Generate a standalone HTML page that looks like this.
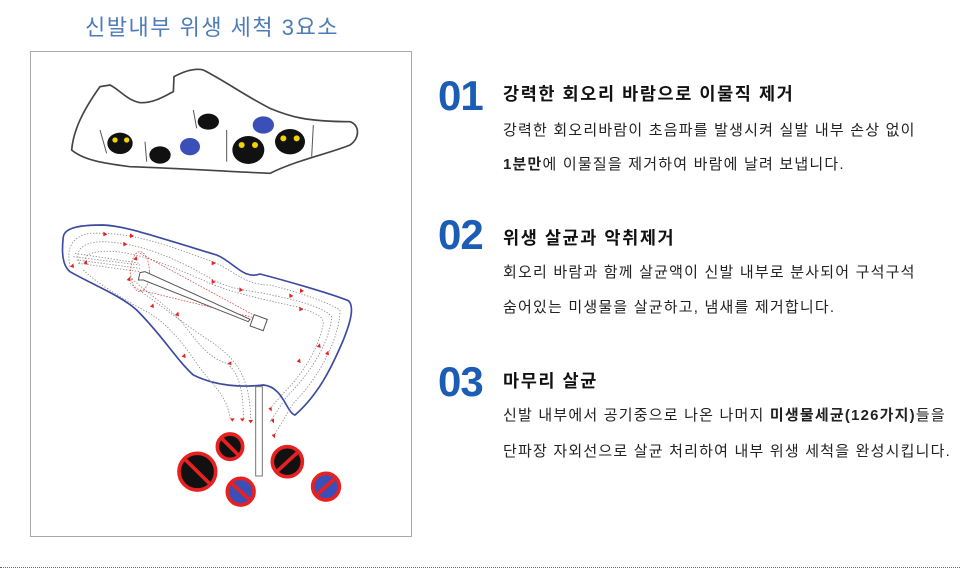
<!DOCTYPE html>
<html><head><meta charset="utf-8">
<style>
body{margin:0;width:960px;height:585px;background:#fff;position:relative;overflow:hidden;font-family:"Liberation Sans","Noto Sans CJK KR",sans-serif;}
.t{position:absolute;white-space:nowrap;}
.title{left:85px;top:10px;font-size:22px;color:#4d7cb8;letter-spacing:1.5px;}
.num{left:438px;font-size:42px;font-weight:bold;color:#1b5cb5;letter-spacing:-1px;}
.h{left:503px;font-size:17.5px;color:#111;letter-spacing:1.6px;font-weight:bold;}
.b{left:503px;font-size:15px;color:#222;letter-spacing:1.2px;}
.frame{position:absolute;left:30px;top:51px;width:380px;height:484px;border:1px solid #aaa;}
.dots{position:absolute;left:0;top:567px;width:960px;border-top:1px dotted #666;}
</style></head><body>
<div class="t title">신발내부 위생 세척 3요소</div>
<div class="frame"></div>
<svg style="position:absolute;left:30px;top:50px" width="380" height="490" viewBox="0 0 1140 1470">
<path d="M125,300 C130,240 160,180 210,110 L240,105 C270,120 290,150 330,158 C370,160 400,140 430,125 L432,80 C470,60 500,55 520,60 C580,90 650,140 720,175 C780,200 830,215 960,215 C990,225 990,265 960,285 C900,310 800,330 720,370 C600,365 450,355 300,350 C220,340 160,330 125,300Z" fill="#fff" stroke="#444" stroke-width="5"/>
<g fill="#111">
<ellipse cx="270" cy="280" rx="38" ry="32"/><ellipse cx="390" cy="315" rx="32" ry="26"/><ellipse cx="535" cy="215" rx="32" ry="24"/>
<ellipse cx="655" cy="300" rx="48" ry="42"/><ellipse cx="780" cy="275" rx="45" ry="38"/>
</g>
<g fill="#f2d200"><circle cx="255" cy="270" r="8"/><circle cx="290" cy="270" r="8"/><circle cx="635" cy="285" r="9"/><circle cx="675" cy="285" r="9"/><circle cx="760" cy="265" r="9"/><circle cx="800" cy="265" r="9"/></g>
<g fill="#3b4fb8"><ellipse cx="480" cy="290" rx="30" ry="26"/><ellipse cx="700" cy="225" rx="32" ry="26"/></g>
<g stroke="#555" stroke-width="3" fill="none"><path d="M210,240 L230,310 M345,275 L350,335 M490,180 L500,235 M590,240 L590,335 M850,225 L845,320"/></g>
<path d="M100,560 C105,530 160,525 220,525 C280,528 330,545 560,615 C610,635 640,690 690,672 C760,690 900,730 955,752 C975,770 960,820 940,870 C910,940 870,1030 795,1095 C770,1090 760,1010 700,1005 C640,1012 560,1010 490,975 C440,930 400,860 320,780 C270,735 180,700 120,665 C95,645 95,600 100,560Z" fill="none" stroke="#3c4aa0" stroke-width="5"/>
<g fill="none" stroke="#888" stroke-width="2.5" stroke-dasharray="4,5">
<path d="M120,650 C110,600 120,560 180,550 C300,545 400,580 560,640 C620,670 650,705 720,705 C820,730 900,760 930,780 C930,860 870,980 790,1060 L730,1160"/>
<path d="M150,640 C130,600 160,575 220,575 C330,580 430,620 550,690 C610,720 650,720 700,730 C800,750 880,770 905,800 C900,870 850,960 770,1040 L720,1115"/>
<path d="M165,635 C160,610 200,600 260,605 C350,615 450,660 540,700 C600,725 680,745 800,770 C860,790 880,800 880,820 C870,880 830,960 760,1030 L720,1075"/>
<path d="M160,660 C200,700 300,760 360,790 C420,830 460,880 500,940 C540,1000 590,1030 600,1105"/>
<path d="M300,680 C340,720 400,760 440,800 C480,840 520,920 590,940 C630,970 640,1030 640,1105"/>
<path d="M300,700 C370,750 460,820 550,880 C620,930 660,980 662,1110"/>
<path d="M130,620 L330,645 M135,610 L330,640 M140,630 L330,655 M145,640 L330,665"/>
</g>
<g fill="none" stroke="#e03030" stroke-width="2" stroke-dasharray="5,4"><ellipse cx="330" cy="665" rx="28" ry="60"/><path d="M330,610 L680,800 M330,720 L680,805"/></g>
<path d="M330,668 L345,665 L660,808 L655,815 L340,690 L325,690Z" fill="#fff" stroke="#555" stroke-width="3"/>
<rect x="665" y="800" width="42" height="36" fill="#fff" stroke="#555" stroke-width="3" transform="rotate(20 686 818)"/>
<rect x="677" y="1010" width="20" height="268" fill="#fff" stroke="#777" stroke-width="3"/>
<g fill="#e82020">
<path d="M220,545 l12,8 l-12,6z"/><path d="M300,550 l12,8 l-12,6z"/><path d="M280,575 l12,8 l-12,6z"/><path d="M545,632 l12,8 l-12,6z"/><path d="M545,688 l12,8 l-12,6z"/><path d="M628,712 l12,8 l-12,6z"/><path d="M810,715 l12,8 l-12,6z"/><path d="M778,730 l12,8 l-12,6z"/><path d="M808,770 l12,8 l-12,6z"/>
<path d="M120,650 l10,-10 l2,14z"/><path d="M160,640 l10,-10 l2,14z"/><path d="M310,628 l10,-10 l2,14z"/><path d="M290,690 l10,-10 l2,14z"/><path d="M360,770 l10,-10 l2,14z"/><path d="M435,795 l10,-10 l2,14z"/><path d="M455,920 l10,-10 l2,14z"/><path d="M592,940 l12,-6 l0,12z"/><path d="M800,935 l10,-10 l2,14z"/><path d="M860,890 l10,-10 l2,14z"/><path d="M885,912 l10,-10 l2,14z"/>
<path d="M600,1105 l14,0 l-7,10z"/><path d="M630,1105 l14,0 l-7,10z"/><path d="M655,1110 l14,0 l-7,10z"/><path d="M715,1075 l10,-4 l0,14z"/><path d="M722,1110 l10,-4 l0,14z"/><path d="M725,1155 l10,-4 l0,14z"/>
</g>
<g>
<circle cx="600" cy="1190" r="40" fill="#111"/><circle cx="502" cy="1265" r="52" fill="#111"/><circle cx="770" cy="1235" r="45" fill="#111"/><circle cx="632" cy="1325" r="40" fill="#3b4fb8"/><circle cx="888" cy="1308" r="42" fill="#3b4fb8"/>
<g fill="none" stroke="#e82020" stroke-width="11">
<circle cx="600" cy="1190" r="38"/><line x1="575" y1="1165" x2="625" y2="1215"/>
<circle cx="502" cy="1265" r="55"/><line x1="465" y1="1228" x2="540" y2="1302"/>
<circle cx="772" cy="1235" r="45"/><line x1="740" y1="1265" x2="805" y2="1205"/>
<circle cx="632" cy="1325" r="40"/><line x1="605" y1="1300" x2="660" y2="1350"/>
<circle cx="888" cy="1310" r="40"/><line x1="860" y1="1335" x2="915" y2="1285"/>
</g></g>
</svg>
<div class="t num" style="top:72px">01</div>
<div class="t h" style="top:81px">강력한 회오리 바람으로 이물직 제거</div>
<div class="t b" style="top:119px">강력한 회오리바람이 초음파를 발생시켜 실발 내부 손상 없이</div>
<div class="t b" style="top:153px"><b>1분만</b>에 이물질을 제거하여 바람에 날려 보냅니다.</div>
<div class="t num" style="top:211px">02</div>
<div class="t h" style="top:225px">위생 살균과 악취제거</div>
<div class="t b" style="top:261px">회오리 바람과 함께 살균액이 신발 내부로 분사되어 구석구석</div>
<div class="t b" style="top:296px">숨어있는 미생물을 살균하고, 냄새를 제거합니다.</div>
<div class="t num" style="top:358px">03</div>
<div class="t h" style="top:368px">마무리 살균</div>
<div class="t b" style="top:404px">신발 내부에서 공기중으로 나온 나머지 <b>미생물세균(126가지)</b>들을</div>
<div class="t b" style="top:440px">단파장 자외선으로 살균 처리하여 내부 위생 세척을 완성시킵니다.</div>
<div class="dots"></div>
</body></html>
